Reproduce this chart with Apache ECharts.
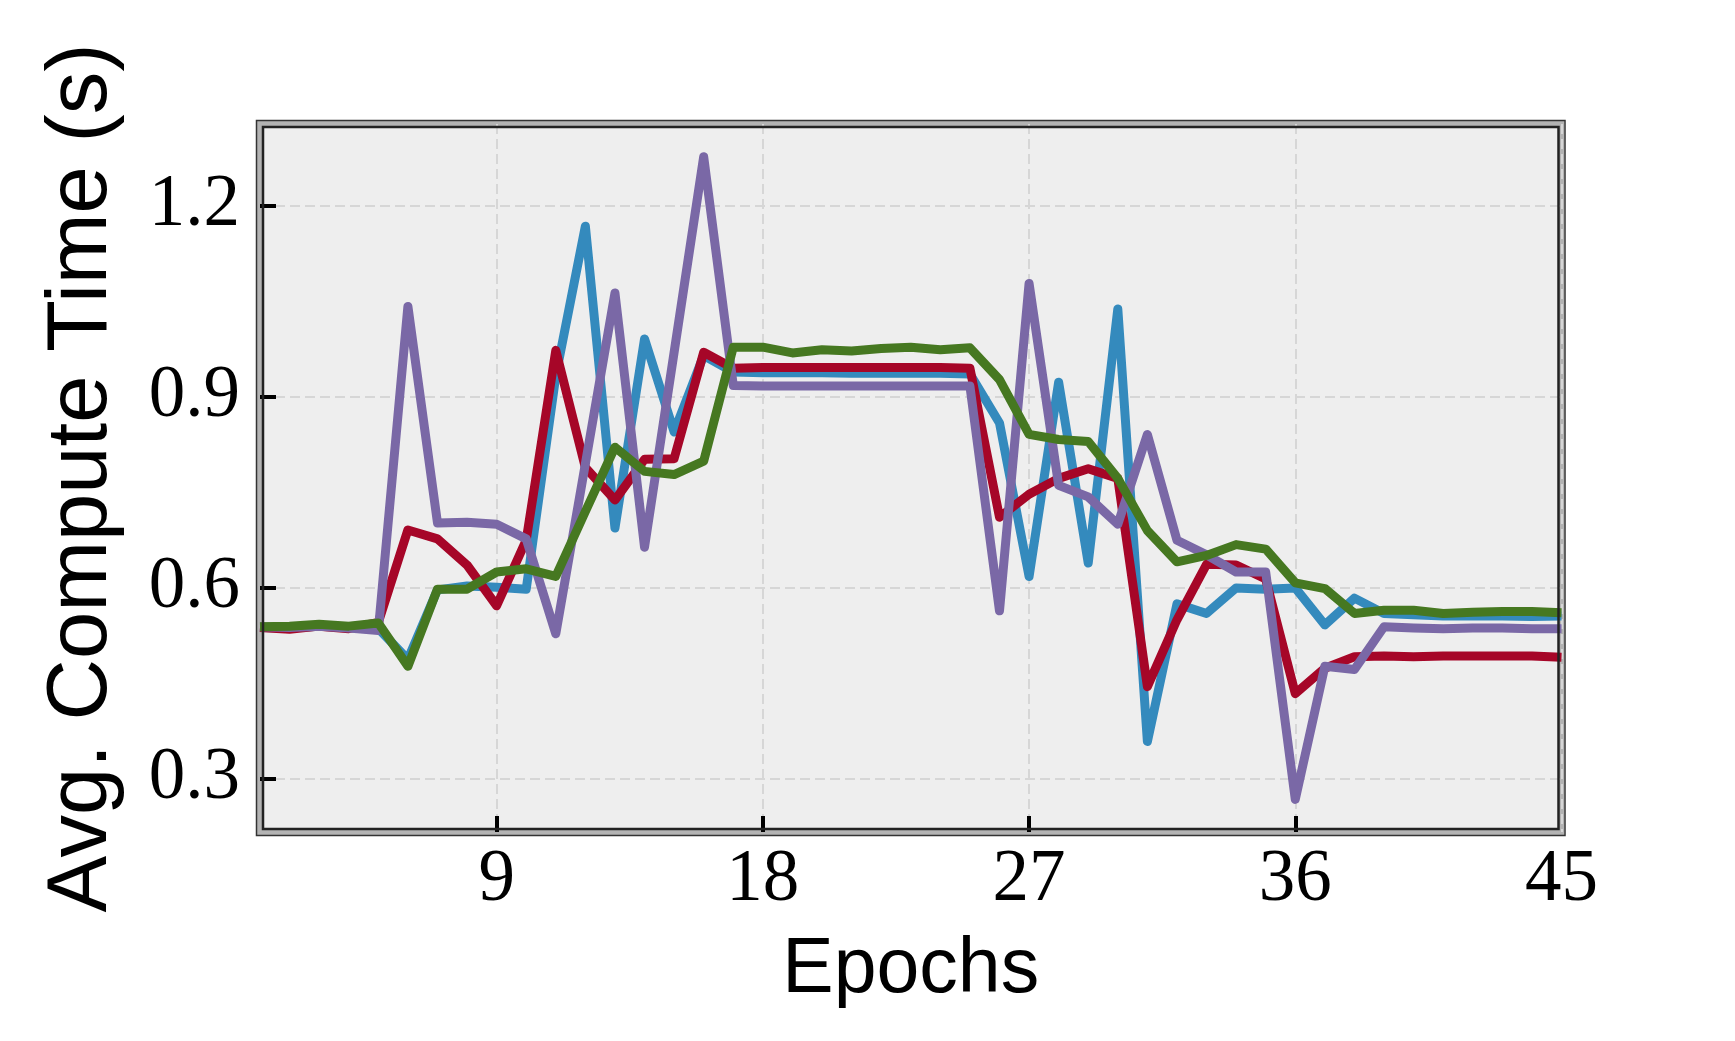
<!DOCTYPE html>
<html>
<head>
<meta charset="utf-8">
<script src="https://cdn.jsdelivr.net/npm/echarts@6.0.0/dist/echarts.min.js"></script>
<style>
html,body{margin:0;padding:0;background:#fff;}
#chart{width:1735px;height:1041px;}
</style>
</head>
<body>
<div id="chart"></div>
<script>
const epochs = ['1','2','3','4','5','6','7','8','9','10','11','12','13','14','15','16','17','18','19','20','21','22','23','24','25','26','27','28','29','30','31','32','33','34','35','36','37','38','39','40','41','42','43','44','45'];
const xTickLabels = ['9','18','27','36','45'];
const yTickValues = [0.3, 0.6, 0.9, 1.2];

const blueSeries = [0.538,0.537,0.540,0.538,0.536, 0.488,0.597,0.603,0.601,0.598, 0.933,1.168,0.694,0.991,0.845, 0.965,0.939,0.938,0.938,0.938, 0.937,0.937,0.937,0.937,0.936, 0.859,0.618,0.923,0.639,1.038, 0.359,0.575,0.560,0.600,0.598, 0.600,0.542,0.584,0.560,0.558, 0.556,0.556,0.556,0.555,0.556];
const redSeries = [0.538,0.535,0.540,0.536,0.546, 0.691,0.677,0.636,0.572,0.675, 0.973,0.789,0.738,0.802,0.803, 0.970,0.945,0.946,0.946,0.946, 0.946,0.946,0.946,0.946,0.945, 0.711,0.747,0.772,0.787,0.772, 0.445,0.550,0.637,0.636,0.614, 0.434,0.474,0.492,0.493,0.492, 0.493,0.493,0.493,0.493,0.491];
const purpleSeries = [0.539,0.538,0.540,0.537,0.533, 1.042,0.702,0.703,0.700,0.677, 0.528,0.795,1.063,0.664,0.970, 1.277,0.918,0.917,0.917,0.917, 0.917,0.917,0.917,0.917,0.917, 0.564,1.078,0.761,0.743,0.700, 0.841,0.675,0.652,0.625,0.625, 0.268,0.477,0.472,0.539,0.537, 0.536,0.537,0.537,0.536,0.536];
const greenSeries = [0.539,0.540,0.543,0.540,0.545, 0.477,0.598,0.598,0.625,0.630, 0.618,0.720,0.821,0.783,0.778, 0.799,0.978,0.978,0.969,0.974, 0.972,0.976,0.978,0.974,0.977, 0.927,0.841,0.833,0.830,0.772, 0.690,0.641,0.651,0.668,0.661, 0.608,0.599,0.560,0.565,0.565, 0.560,0.562,0.563,0.563,0.561];

const Y_MIN = 0.2168, Y_MAX = 1.3284;
const G = {left: 260, top: 124, width: 1301.5, height: 708};

const showX = (idx, val) => xTickLabels.indexOf(String(val)) >= 0;
const showTick = (idx, val) => xTickLabels.indexOf(String(val)) >= 0 && idx < epochs.length - 1;

const chart = echarts.init(document.getElementById('chart'), null, {renderer: 'canvas'});
const lineSeries = (data, color, z) => ({
  type: 'line', data: data, showSymbol: false, symbol: 'none', z: z,
  lineStyle: {color: color, width: 9, join: 'round', cap: 'butt'},
  itemStyle: {color: color}, animation: false
});

chart.setOption({
  backgroundColor: '#ffffff',
  animation: false,
  grid: {
    left: G.left, top: G.top, width: G.width, height: G.height,
    show: true, backgroundColor: '#eeeeee', borderColor: '#b3b3b3', borderWidth: 6
  },
  graphic: [
    {type: 'rect', silent: true, z: 100,
      shape: {x: G.left - 3.5, y: G.top - 3.5, width: G.width + 7, height: G.height + 7},
      style: {fill: null, stroke: '#333333', lineWidth: 1.5}},
    {type: 'rect', silent: true, z: 100,
      shape: {x: G.left + 3, y: G.top + 3, width: G.width - 6, height: G.height - 6},
      style: {fill: null, stroke: '#222222', lineWidth: 2.5}}
  ],
  xAxis: {
    type: 'category', data: epochs, boundaryGap: false,
    name: 'Epochs', nameLocation: 'middle', nameGap: 100,
    nameTextStyle: {fontFamily: 'Liberation Sans', fontSize: 77, color: '#000'},
    axisLine: {show: false},
    axisTick: {show: true, inside: true, length: 16, interval: showTick, lineStyle: {color: '#000', width: 4}},
    axisLabel: {interval: showX, margin: 12, fontFamily: 'Liberation Serif', fontSize: 73, color: '#000'},
    splitLine: {show: true, interval: showX, lineStyle: {color: '#d6d6d6', width: 2, type: [10, 5]}}
  },
  yAxis: {
    type: 'value', min: Y_MIN, max: Y_MAX,
    name: 'Avg. Compute Time (s)', nameLocation: 'middle', nameGap: 135, nameRotate: 90,
    nameTextStyle: {fontFamily: 'Liberation Sans', fontSize: 85, color: '#000'},
    axisLine: {show: false},
    axisTick: {show: true, inside: true, length: 16, customValues: yTickValues, lineStyle: {color: '#000', width: 4}},
    axisLabel: {customValues: yTickValues, margin: 20, fontFamily: 'Liberation Serif', fontSize: 73, color: '#000',
      formatter: v => v.toFixed(1)},
    splitLine: {show: true, lineStyle: {color: '#d6d6d6', width: 2, type: [10, 5]}}
  },
  series: [
    lineSeries(blueSeries, '#348ABD', 2),
    lineSeries(redSeries, '#A60628', 3),
    lineSeries(purpleSeries, '#7A68A6', 4),
    lineSeries(greenSeries, '#467821', 5)
  ]
});
</script>
</body>
</html>
